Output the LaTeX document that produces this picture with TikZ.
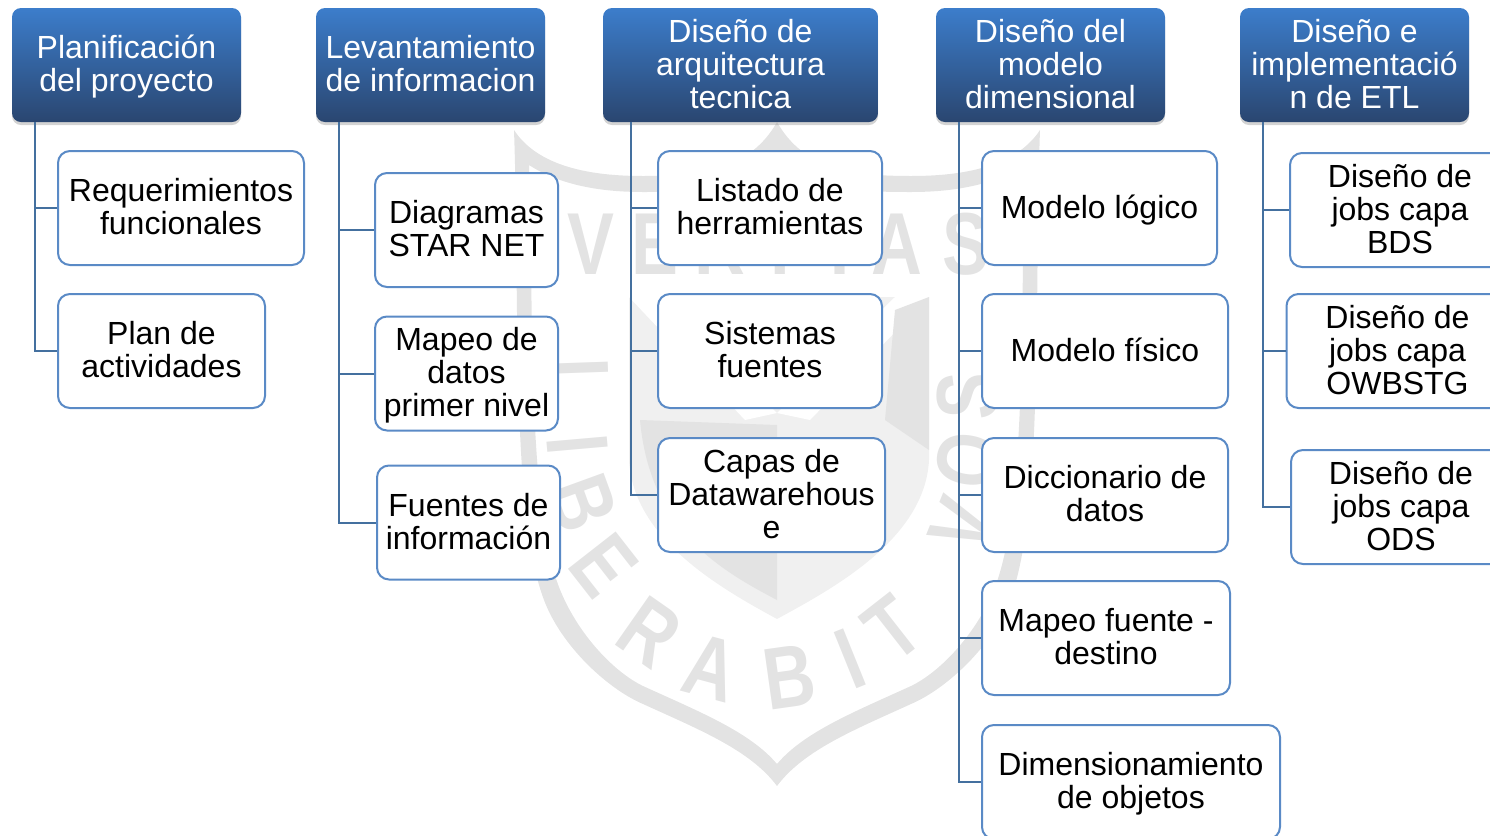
\documentclass[tikz,border=0pt]{standalone}
\usepackage{fontspec}
\setmainfont{Liberation Sans}
\usetikzlibrary{shadows}
\definecolor{headtop}{HTML}{3C7DCB}
\definecolor{headbot}{HTML}{2A4670}
\definecolor{boxline}{HTML}{5A8AC6}
\definecolor{trunkline}{HTML}{44709F}
\definecolor{markgrey}{HTML}{E3E3E3}
\definecolor{marksoft}{HTML}{F0F0F0}
\tikzset{
  headbox/.style={rectangle, rounded corners=4.5pt, top color=headtop, bottom color=headbot, text=white, align=center, inner sep=0pt, minimum height=57pt, text depth=5pt, font=\fontsize{16pt}{16.5pt}\selectfont, drop shadow={shadow xshift=0pt, shadow yshift=-1.5pt, opacity=0.35}},
  itembox/.style={rectangle, rounded corners=6pt, draw=boxline, line width=1pt, fill=white, align=center, inner sep=0pt, minimum height=57pt, text depth=5pt, font=\fontsize{16pt}{16.5pt}\selectfont},
  onerow/.style={text height=15pt},
  tworows/.style={text height=31.5pt},
  threerows/.style={text height=48pt},
  link/.style={draw=trunkline, line width=1pt},
  markletter/.style={text=markgrey, inner sep=0pt, xscale=0.8, font=\fontsize{44pt}{44pt}\selectfont\bfseries}
}
\begin{document}
\begin{tikzpicture}[x=0.5pt, y=-0.5pt]
\useasboundingbox (0,0) rectangle (1490,836);
\clip (0,0) rectangle (1490,836);

\fill[markgrey, even odd rule] (514,130) .. controls (540,170) and (600,176) .. (643,176) .. controls (700,176) and (750,170) .. (777,122) .. controls (804,170) and (854,176) .. (911,176) .. controls (954,176) and (1014,170) .. (1040,130) .. controls (1034,300) and (1044,520) .. (1008,605) .. controls (989,650) and (944,690) .. (911,704) .. controls (854,730) and (804,750) .. (777,786) .. controls (750,750) and (700,730) .. (643,704) .. controls (610,690) and (565,650) .. (546,605) .. controls (510,520) and (520,300) .. (514,130) -- cycle
  (529,165) .. controls (560,185) and (600,192) .. (643,192) .. controls (700,192) and (750,190) .. (777,150) .. controls (804,190) and (854,192) .. (911,192) .. controls (954,192) and (994,185) .. (1025,165) .. controls (1020,300) and (1028,510) .. (993,592) .. controls (975,635) and (940,672) .. (911,686) .. controls (854,712) and (804,732) .. (777,764) .. controls (750,732) and (700,712) .. (643,686) .. controls (614,672) and (579,635) .. (561,592) .. controls (526,510) and (534,300) .. (529,165) -- cycle;
\fill[marksoft] (629,297) -- (929,297) -- (929,460) .. controls (925,540) and (830,590) .. (777,619) .. controls (724,590) and (633,540) .. (629,460) -- cycle;
\fill[white] (629,297) -- (660,297) -- (777,413) -- (745,420) -- cycle;
\fill[white] (929,297) -- (895,297) -- (777,413) -- (810,420) -- cycle;
\fill[markgrey] (895,310) -- (929,297) -- (929,450) -- (885,420) -- cycle;
\fill[markgrey] (640,420) -- (777,425) -- (777,600) .. controls (720,570) and (650,530) .. (640,420) -- cycle;

\node[markletter] (markv) at (591,244) {V};
\node[markletter] (marke) at (655,244) {E};
\node[markletter] (markr) at (720,244) {R};
\node[markletter] (marki) at (780,244) {I};
\node[markletter] (markt) at (840,244) {T};
\node[markletter] (marka) at (897,244) {A};
\node[markletter] (marks) at (966,244) {S};
\node[rotate=-88, markletter] (markll) at (578,380) {L};
\node[rotate=-85, markletter] (markli) at (578,445) {I};
\node[rotate=-70, markletter] (marklb) at (583,503) {B};
\node[rotate=-52, markletter] (markle) at (604,565) {E};
\node[rotate=-35, markletter] (marklr) at (650,632) {R};
\node[rotate=-15, markletter] (markla) at (711,668) {A};
\node[rotate=8, markletter] (marklc) at (789,677) {B};
\node[rotate=22, markletter] (markld) at (850,659) {I};
\node[rotate=38, markletter] (marklt) at (893,628) {T};
\node[rotate=68, markletter] (markvv) at (963,525) {V};
\node[rotate=80, markletter] (markvo) at (968,460) {O};
\node[rotate=88, markletter] (markvs) at (968,396) {S};

\node[headbox, tworows, minimum width=114.5pt] (planhead) at (126.5,65) {Planificación\\del proyecto};
\node[headbox, tworows, minimum width=114.5pt] (levahead) at (430.5,65) {Levantamiento\\de informacion};
\node[headbox, threerows, minimum width=137.5pt] (archhead) at (740.5,65) {Diseño de\\arquitectura\\tecnica};
\node[headbox, threerows, minimum width=114.5pt] (dimhead) at (1050.5,65) {Diseño del\\modelo\\dimensional};
\node[headbox, threerows, minimum width=114.5pt] (etlhead) at (1354.5,65) {Diseño e\\implementació\\n de ETL};

\node[itembox, tworows, minimum width=123pt] (reqbox) at (181,208) {Requerimientos\\funcionales};
\node[itembox, tworows, minimum width=103.5pt] (actbox) at (161.5,351) {Plan de\\actividades};

\node[itembox, tworows, minimum width=91.5pt] (starbox) at (466.5,230) {Diagramas\\STAR NET};
\node[itembox, threerows, minimum width=91.5pt] (mapbox) at (466.5,373.5) {Mapeo de\\datos\\primer nivel};
\node[itembox, tworows, minimum width=91.5pt] (fuentebox) at (468.5,522.5) {Fuentes de\\información};

\node[itembox, tworows, minimum width=112pt] (toolbox) at (770,208) {Listado de\\herramientas};
\node[itembox, tworows, minimum width=112pt] (sysbox) at (770,351) {Sistemas\\fuentes};
\node[itembox, threerows, minimum width=113.5pt] (capbox) at (771.5,495) {Capas de\\Datawarehous\\e};

\node[itembox, onerow, minimum width=117.5pt] (logbox) at (1099.5,208) {Modelo lógico};
\node[itembox, onerow, minimum width=123pt] (fisbox) at (1105,351) {Modelo físico};
\node[itembox, tworows, minimum width=123pt] (dicbox) at (1105,495) {Diccionario de\\datos};
\node[itembox, tworows, minimum width=124pt] (origbox) at (1106,638) {Mapeo fuente -\\destino};
\node[itembox, tworows, minimum width=149pt] (objbox) at (1131,782) {Dimensionamiento\\de objetos};

\node[itembox, threerows, minimum width=110pt] (bdsbox) at (1400,210) {Diseño de\\jobs capa\\BDS};
\node[itembox, threerows, minimum width=111pt] (stgbox) at (1397.5,351) {Diseño de\\jobs capa\\OWBSTG};
\node[itembox, threerows, minimum width=110pt] (odsbox) at (1401,507) {Diseño de\\jobs capa\\ODS};

\draw[link] ([xshift=11.5pt]planhead.south west) |- (reqbox.west);
\draw[link] ([xshift=11.5pt]planhead.south west) |- (actbox.west);

\draw[link] ([xshift=11.5pt]levahead.south west) |- (starbox.west);
\draw[link] ([xshift=11.5pt]levahead.south west) |- (mapbox.west);
\draw[link] ([xshift=11.5pt]levahead.south west) |- (fuentebox.west);

\draw[link] ([xshift=14pt]archhead.south west) |- (toolbox.west);
\draw[link] ([xshift=14pt]archhead.south west) |- (sysbox.west);
\draw[link] ([xshift=14pt]archhead.south west) |- (capbox.west);

\draw[link] ([xshift=11.5pt]dimhead.south west) |- (logbox.west);
\draw[link] ([xshift=11.5pt]dimhead.south west) |- (fisbox.west);
\draw[link] ([xshift=11.5pt]dimhead.south west) |- (dicbox.west);
\draw[link] ([xshift=11.5pt]dimhead.south west) |- (origbox.west);
\draw[link] ([xshift=11.5pt]dimhead.south west) |- (objbox.west);

\draw[link] ([xshift=11.5pt]etlhead.south west) |- (bdsbox.west);
\draw[link] ([xshift=11.5pt]etlhead.south west) |- (stgbox.west);
\draw[link] ([xshift=11.5pt]etlhead.south west) |- (odsbox.west);
\end{tikzpicture}
\end{document}
